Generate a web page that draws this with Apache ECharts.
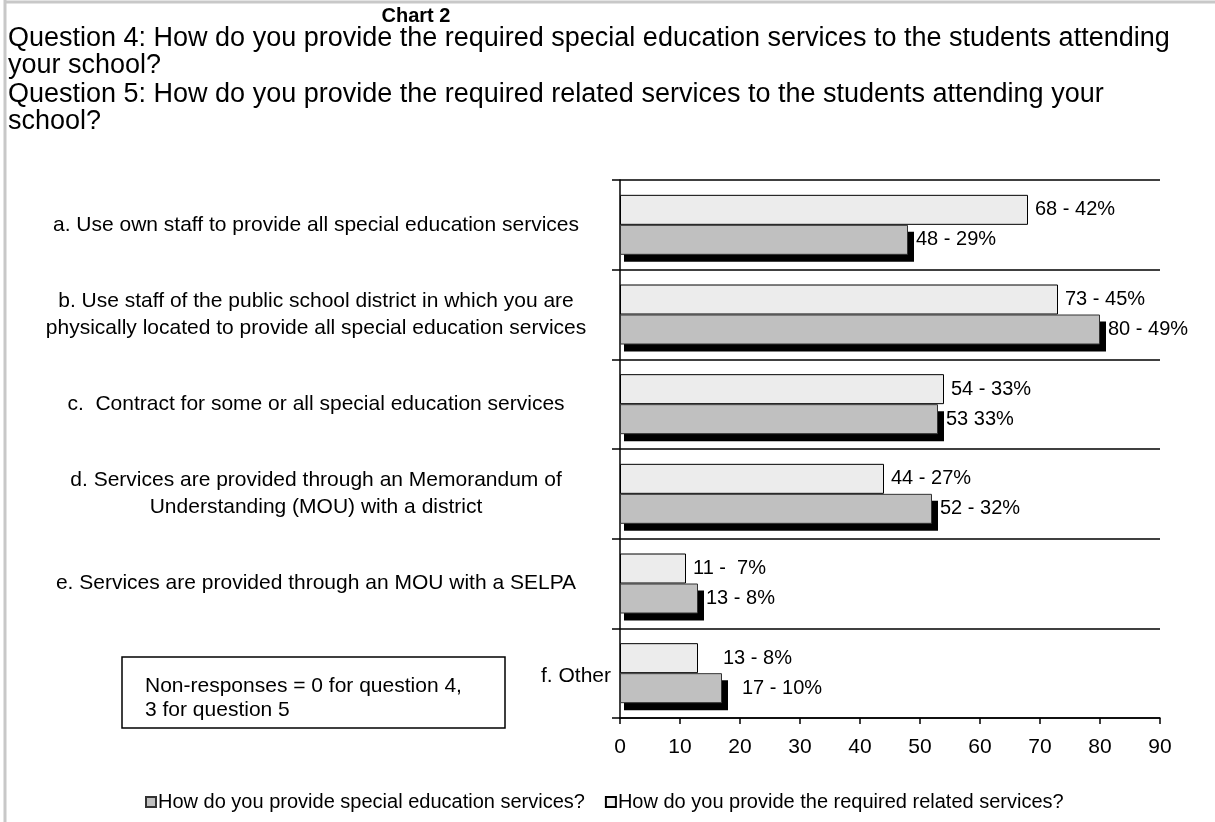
<!DOCTYPE html>
<html>
<head>
<meta charset="utf-8">
<script src="https://cdn.jsdelivr.net/npm/echarts@6/dist/echarts.min.js"></script>
<style>
  html, body { margin: 0; padding: 0; background: #fff; }
  #chart { width: 1215px; height: 822px; }
</style>
</head>
<body>
<div id="chart"></div>
<script>
// categories (top to bottom)
var categories = [
  "a. Use own staff to provide all special education services",
  "b. Use staff of the public school district in which you are\nphysically located to provide all special education services",
  "c.  Contract for some or all special education services",
  "d. Services are provided through an Memorandum of\nUnderstanding (MOU) with a district",
  "e. Services are provided through an MOU with a SELPA",
  "f. Other"
];
// Question 5 - related services (light bars)
var relatedValues = [68, 73, 54, 44, 11, 13];
var relatedLabels = ["68 - 42%", "73 - 45%", "54 - 33%", "44 - 27%", "11 -  7%", "13 - 8%"];
// Question 4 - special education services (dark bars)
var specialValues = [48, 80, 53, 52, 13, 17];
var specialLabels = ["48 - 29%", "80 - 49%", "53 33%", "52 - 32%", "13 - 8%", "17 - 10%"];
var xTicks = [0, 10, 20, 30, 40, 50, 60, 70, 80, 90];

var nameSpecial = "How do you provide special education services?";
var nameRelated = "How do you provide the required related services?";
var FONT = "'Liberation Sans', Arial, sans-serif";
var BAR_W = 30;

var myChart = echarts.init(document.getElementById("chart"));

// black drop shadow behind the dark bars (drawn through the axes)
function shadowItem(params, api) {
  var idx = api.value(1);
  var start = api.coord([0, idx]);
  var end = api.coord([api.value(0), idx]);
  return {
    type: "rect",
    shape: { x: start[0] + 4, y: end[1] + 7, width: end[0] - start[0] + 2, height: BAR_W },
    style: { fill: "#000" }
  };
}

var option = {
  backgroundColor: "#fff",
  animation: false,
  textStyle: { fontFamily: FONT, color: "#000" },
  title: [
    {
      text: "Chart 2",
      left: 411, top: 1,
      textAlign: "center",
      textStyle: { fontFamily: FONT, fontSize: 20, fontWeight: "bold", color: "#000" }
    },
    {
      text: "Question 4: How do you provide the required special education services to the students attending\nyour school?",
      left: 3, top: 20,
      textStyle: { fontFamily: FONT, fontSize: 27, fontWeight: "normal", color: "#000", lineHeight: 27 }
    },
    {
      text: "Question 5: How do you provide the required related services to the students attending your\nschool?",
      left: 3, top: 76,
      textStyle: { fontFamily: FONT, fontSize: 27, fontWeight: "normal", color: "#000", lineHeight: 27 }
    }
  ],
  legend: {
    data: [nameSpecial, nameRelated],
    left: 140, top: 787,
    icon: "rect",
    itemWidth: 10, itemHeight: 10,
    itemGap: 20,
    textStyle: { fontFamily: FONT, fontSize: 20, color: "#000", padding: [0, 0, 0, -3] }
  },
  grid: { left: 620, right: 55, top: 180, bottom: 104 },
  xAxis: {
    type: "value",
    min: xTicks[0],
    max: xTicks[xTicks.length - 1],
    interval: 10,
    axisLine: { show: true, lineStyle: { color: "#000", width: 1.5 } },
    axisTick: { show: true, length: 6, lineStyle: { color: "#000", width: 1.5 } },
    axisLabel: { fontSize: 21, color: "#000", margin: 19, fontFamily: FONT },
    splitLine: { show: false }
  },
  yAxis: {
    type: "category",
    inverse: true,
    data: categories,
    axisLine: { show: true, lineStyle: { color: "#000", width: 1.5 } },
    axisTick: { show: true, length: 8, lineStyle: { color: "#000", width: 1.5 } },
    splitLine: { show: true, lineStyle: { color: "#000", width: 1.5 } },
    axisLabel: {
      align: "center",
      margin: 304,
      fontSize: 21,
      lineHeight: 27,
      color: "#000",
      fontFamily: FONT,
      formatter: function (v) {
        return v === "f. Other" ? "{f|" + v + "}" : v;
      },
      rich: {
        f: { fontSize: 21, fontFamily: FONT, color: "#000", padding: [6, 0, 0, 520] }
      }
    }
  },
  series: [
    {
      name: nameRelated,
      type: "bar",
      z: 3,
      barWidth: BAR_W,
      barGap: "0%",
      itemStyle: { color: "#ececec", borderColor: "#000", borderWidth: 1 },
      label: {
        show: true,
        position: "right",
        distance: 7,
        fontSize: 20,
        color: "#000",
        fontFamily: FONT,
        formatter: function (p) { return relatedLabels[p.dataIndex]; }
      },
      data: relatedValues.map(function (v, i) {
        return i === 5 ? { value: v, label: { distance: 25 } } : v;
      })
    },
    {
      name: nameSpecial,
      type: "bar",
      z: 3,
      barWidth: BAR_W,
      barGap: "0%",
      itemStyle: { color: "#c0c0c0", borderColor: "#333", borderWidth: 1 },
      label: {
        show: true,
        position: "right",
        distance: 8,
        fontSize: 20,
        color: "#000",
        fontFamily: FONT,
        formatter: function (p) { return specialLabels[p.dataIndex]; }
      },
      data: specialValues.map(function (v, i) {
        return i === 5 ? { value: v, label: { distance: 20 } } : v;
      })
    },
    {
      name: "shadow",
      type: "custom",
      z: 1,
      silent: true,
      renderItem: shadowItem,
      encode: { x: 0, y: 1 },
      data: specialValues.map(function (v, i) { return [v, i]; })
    }
  ],
  graphic: [
    // outer frame lines
    { type: "line", shape: { x1: 5, y1: 0, x2: 5, y2: 822 }, style: { stroke: "#c8c8c8", lineWidth: 3 } },
    { type: "line", shape: { x1: 5, y1: 2, x2: 1215, y2: 2 }, style: { stroke: "#c8c8c8", lineWidth: 3 } },
    // note box
    {
      type: "rect",
      shape: { x: 122, y: 657, width: 383, height: 71 },
      style: { fill: "#fff", stroke: "#000", lineWidth: 1.5 }
    },
    {
      type: "text",
      left: 145, top: 674,
      style: {
        text: "Non-responses = 0 for question 4,\n3 for question 5",
        font: "21px " + FONT,
        lineHeight: 24,
        fill: "#000"
      }
    }
  ]
};

myChart.setOption(option);
</script>
</body>
</html>
